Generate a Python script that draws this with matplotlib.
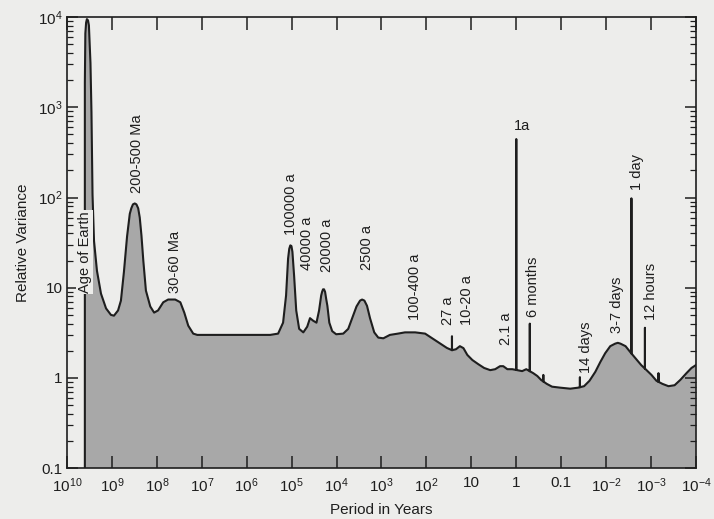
import numpy as np
import matplotlib
matplotlib.use("Agg")
import matplotlib.pyplot as plt
from matplotlib.ticker import FixedLocator, FixedFormatter, NullLocator, LogLocator, NullFormatter

plt.rcParams['font.family'] = ['Liberation Sans', 'DejaVu Sans']
plt.rcParams['mathtext.fontset'] = 'custom'
plt.rcParams['mathtext.rm'] = 'Liberation Sans'
plt.rcParams['mathtext.it'] = 'Liberation Sans:italic'
plt.rcParams['mathtext.bf'] = 'Liberation Sans:bold'

# Continuum of the variance spectrum (period in years, relative variance)
cont_period = [4.0e9, 4.0e9, 3.9e9, 3.75e9, 3.6e9, 3.4e9, 3.25e9, 3.0e9, 2.85e9,
               2.7e9, 2.5e9, 2.15e9, 1.75e9, 1.35e9, 1.05e9, 9.0e8, 7.3e8, 6.3e8,
               5.4e8, 4.6e8, 4.0e8, 3.7e8, 3.4e8, 3.1e8, 2.85e8, 2.6e8, 2.4e8,
               2.2e8, 2.0e8, 1.75e8, 1.4e8, 1.15e8, 9.4e7, 7.2e7, 5.6e7, 3.9e7,
               3.0e7, 2.45e7, 2.0e7, 1.55e7, 1.26e7, 3.0e5, 2.0e5, 1.55e5,
               1.33e5, 1.2e5, 1.13e5, 1.07e5, 1.01e5, 9.6e4, 8.8e4, 7.9e4, 6.8e4,
               5.5e4, 4.5e4, 3.9e4, 3.3e4, 2.8e4, 2.45e4, 2.2e4, 2.1e4, 2.0e4,
               1.9e4, 1.8e4, 1.7e4, 1.6e4, 1.45e4, 1.25e4, 1.02e4, 7.1e3, 5.5e3,
               4.5e3, 3.6e3, 3.0e3, 2.7e3, 2.4e3, 2.1e3, 1.8e3, 1.45e3, 1.18e3,
               910, 650, 430, 300, 178, 107, 74, 49, 35, 27, 22, 18, 15, 12.3,
               9.5, 7.0, 5.2, 3.8, 2.95, 2.3, 1.95, 1.58, 1.23, 0.74, 0.6, 0.42,
               0.34, 0.28, 0.21, 0.16, 0.105, 0.063, 0.042, 0.031, 0.0235,
               0.0174, 0.0135, 0.0105, 0.0081, 0.0063, 0.0055, 0.0048, 0.0037,
               0.0029, 0.0021, 0.00166, 0.00126, 0.00098, 0.00076, 0.00056,
               0.00041, 0.0003, 0.000224, 0.000163, 0.000126, 0.0001]
cont_var = [0.1, 1870, 6600, 8700, 9500, 9200, 8100, 3100, 880,
            108, 33, 15.4, 8.6, 5.9, 5.0, 4.9, 5.6, 7.2,
            15, 37, 66, 76, 84, 86, 84, 76, 60,
            38, 20, 9.3, 6.2, 5.3, 5.6, 6.9, 7.4, 7.4,
            6.9, 5.3, 3.8, 3.1, 3.0, 3.0, 3.1, 4.1,
            8.2, 21, 27, 29.5, 29, 25, 13.5, 5.6, 3.5,
            3.2, 3.7, 4.6, 4.3, 4.1, 5.6, 8.2, 9.0, 9.6,
            9.6, 9.0, 7.5, 6.3, 4.1, 3.3, 3.05, 3.1, 3.5,
            4.6, 6.2, 7.2, 7.4, 7.2, 6.3, 4.6, 3.2, 2.8,
            2.75, 3.0, 3.1, 3.2, 3.2, 3.1, 2.75, 2.4, 2.15, 2.03, 2.08, 2.25, 2.14, 1.8,
            1.58, 1.42, 1.29, 1.22, 1.25, 1.35, 1.35, 1.25, 1.25, 1.19, 1.25, 1.13,
            1.05, 0.95, 0.86, 0.80, 0.78, 0.76, 0.78, 0.81, 0.93,
            1.17, 1.5, 1.88, 2.25, 2.4, 2.45, 2.4, 2.25,
            1.93, 1.6, 1.39, 1.22, 1.08, 0.93, 0.86,
            0.81, 0.83, 0.95, 1.13, 1.29, 1.39]

# Sharp spectral lines (period in years, peak variance)
line_period = [27.0, 1.0, 0.5, 0.25, 14 / 365, 1 / 365, 0.5 / 365, 0.25 / 365]
line_peak = [2.9, 445, 4.0, 1.08, 1.02, 98, 3.6, 1.13]

# Annotations: text, period, variance (lower end of text), rotation
label_text = ["Age of Earth", "200-500 Ma", "30-60 Ma", "100000 a", "40000 a",
              "20000 a", "2500 a", "100-400 a", "27 a", "10-20 a", "2.1 a",
              "1a", "6 months", "14 days", "3-7 days", "1 day", "12 hours"]
label_period = [4.0e9, 2.75e8, 4.0e7, 1.02e5, 4.6e4, 1.6e4, 2.1e3, 178, 33,
                12.6, 1.7, 0.75, 0.43, 0.028, 0.0058, 0.00206, 0.001]
label_var = [8.8, 112, 8.8, 38, 15.8, 15, 15.8, 4.4, 3.9, 3.9, 2.3,
             520, 4.75, 1.14, 3.15, 121, 4.4]
label_rot = [90, 90, 90, 90, 90, 90, 90, 90, 90, 90, 90,
             0, 90, 90, 90, 90, 90]

xtick_vals = [1e10, 1e9, 1e8, 1e7, 1e6, 1e5, 1e4, 1e3, 1e2, 10, 1, 0.1, 1e-2, 1e-3, 1e-4]
xtick_text = ["$10^{10}$", "$10^{9}$", "$10^{8}$", "$10^{7}$", "$10^{6}$", "$10^{5}$",
              "$10^{4}$", "$10^{3}$", "$10^{2}$", "10", "1", "0.1",
              "$10^{-2}$", "$10^{-3}$", "$10^{-4}$"]
ytick_vals = [0.1, 1, 10, 1e2, 1e3, 1e4]
ytick_text = ["0.1", "1", "10", "$10^{2}$", "$10^{3}$", "$10^{4}$"]

PAPER = "#ededeb"
FILL = "#a8a8a8"
INK = "#1e1e1e"

# Merge the continuum with the narrow lines
cp = np.array(cont_period, dtype=float)
cv = np.array(cont_var, dtype=float)
lp_c = np.log10(cp[::-1])
lv_c = np.log10(cv[::-1])
per = list(cp)
var = list(cv)
eps = 1.0015
for p, h in zip(line_period, line_peak):
    base = 10 ** np.interp(np.log10(p), lp_c, lv_c)
    per += [p * eps, p, p / eps]
    var += [base, h, base]
order = np.argsort(-np.array(per), kind="stable")
per = np.array(per)[order]
var = np.array(var)[order]

fig = plt.figure(figsize=(7.14, 5.19), dpi=100, facecolor=PAPER)
ax = fig.add_axes([0.0938, 0.098, 0.881, 0.869], facecolor=PAPER)

ax.set_xscale("log")
ax.set_yscale("log")
ax.fill_between(per, var, 1e-3, color=FILL, linewidth=0, zorder=1)
ax.plot(per, var, color=INK, linewidth=1.5, solid_joinstyle="round", zorder=2)
ax.set_xlim(1e10, 1e-4)
ax.set_ylim(0.1, 1e4)

ax.xaxis.set_major_locator(FixedLocator(xtick_vals))
ax.xaxis.set_major_formatter(FixedFormatter(xtick_text))
ax.xaxis.set_minor_locator(NullLocator())
ax.yaxis.set_major_locator(FixedLocator(ytick_vals))
ax.yaxis.set_major_formatter(FixedFormatter(ytick_text))
ax.yaxis.set_minor_locator(LogLocator(base=10, subs=np.arange(2, 10)))
ax.yaxis.set_minor_formatter(NullFormatter())

ax.tick_params(which="both", direction="in", top=True, right=True,
               color=INK, labelcolor=INK, labelsize=11)
ax.tick_params(axis="x", which="major", length=9, width=1.1, pad=6)
ax.tick_params(axis="y", which="major", length=8, width=1.1, pad=3)
ax.tick_params(axis="y", which="minor", length=4, width=0.9)
for s in ax.spines.values():
    s.set_color(INK)
    s.set_linewidth(1.2)

for t, p, v, r in zip(label_text, label_period, label_var, label_rot):
    kw = dict(rotation=r, ha="center", va="bottom", fontsize=10.5, color=INK, zorder=4)
    if t == "Age of Earth":
        kw["bbox"] = dict(facecolor=PAPER, edgecolor="none", pad=1.0)
    ax.text(p, v, t, **kw)

fig.text(0.534, 0.018, "Period in Years", fontsize=11, color=INK,
         ha="center", va="center")
ax.set_ylabel("Relative Variance", fontsize=11, color=INK, labelpad=6)

fig.savefig("out.png", dpi=100, facecolor=PAPER)
